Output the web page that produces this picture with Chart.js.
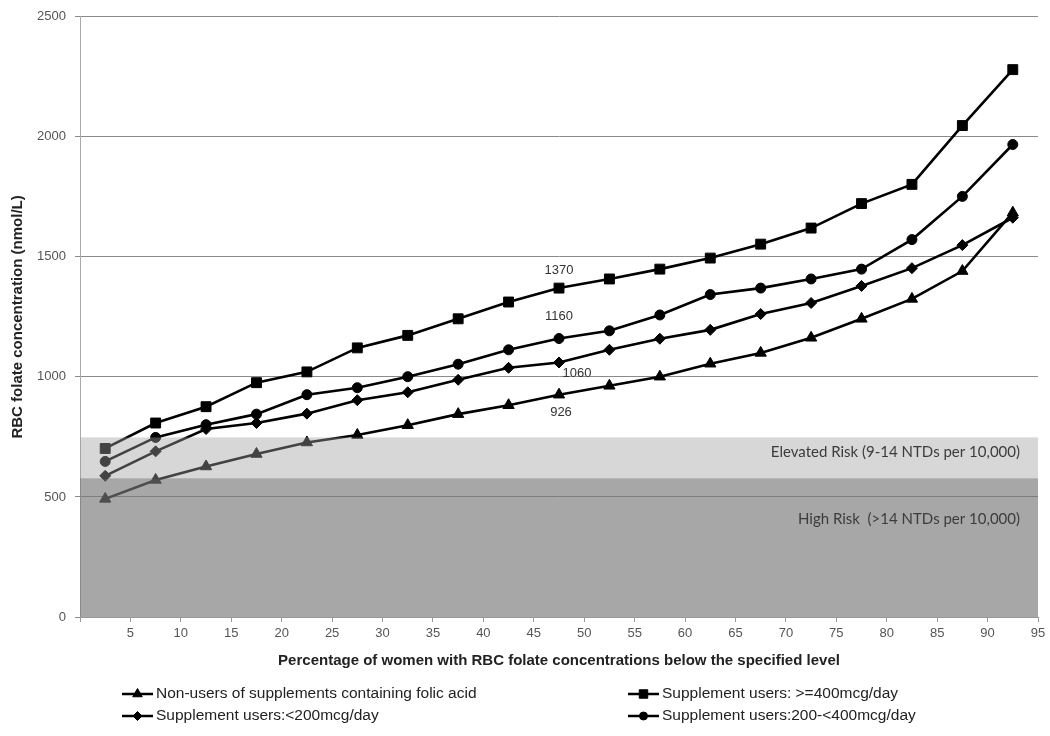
<!DOCTYPE html>
<html>
<head>
<meta charset="utf-8">
<script src="https://cdn.jsdelivr.net/npm/chart.js@4.4.0/dist/chart.umd.min.js"></script>
<style>
html, body { margin: 0; padding: 0; background: #fff; }
</style>
</head>
<body>
<canvas id="folateChart" width="1050" height="736"></canvas>
<script>
// percentile midpoints on the x axis
let percentiles = [2.5, 7.5, 12.5, 17.5, 22.5, 27.5, 32.5, 37.5, 42.5, 47.5, 52.5, 57.5, 62.5, 67.5, 72.5, 77.5, 82.5, 87.5, 92.5];

let seriesNames = [
    'Non-users of supplements containing folic acid',
    'Supplement users:<200mcg/day',
    'Supplement users:200-<400mcg/day',
    'Supplement users: >=400mcg/day'
];
let nonUsers = [492, 571, 627, 679, 727, 758, 799, 845, 882, 926, 963, 1001, 1055, 1100, 1163, 1242, 1325, 1441, 1684];
let under200 = [588, 690, 783, 808, 847, 903, 936, 988, 1038, 1060, 1113, 1159, 1196, 1262, 1308, 1379, 1453, 1549, 1663];
let from200to400 = [648, 748, 801, 845, 926, 955, 1001, 1053, 1113, 1160, 1192, 1258, 1343, 1370, 1408, 1449, 1572, 1752, 1968];
let over400 = [702, 808, 876, 976, 1021, 1121, 1173, 1242, 1312, 1370, 1408, 1449, 1495, 1553, 1620, 1722, 1802, 2047, 2280];

let xTicks = [0, 5, 10, 15, 20, 25, 30, 35, 40, 45, 50, 55, 60, 65, 70, 75, 80, 85, 90, 95];
let yTicks = [0, 500, 1000, 1500, 2000, 2500];

// risk zones (nmol/L)
let bandNames = ['Elevated Risk (9-14 NTDs per 10,000)', 'High Risk  (>14 NTDs per 10,000)'];
let bandLow = [578, 0];
let bandHigh = [748, 578];

// the point at the median that gets its value written next to it
let labeledIndex = 9;

// styles
let markerStyles = ['triangle', 'rectRot', 'circle', 'rect'];
let markerSizes = [6.5, 5.5, 5, 7];
let labelOffsets = [[2, 18], [18, 11], [0, -22], [0, -18]];
let legendSlots = [[122, 694], [122, 716], [628, 716], [628, 694]];
let bandFills = ['rgba(160,160,160,0.42)', 'rgba(120,120,120,0.65)'];

let allValues = [nonUsers, under200, from200to400, over400];

Chart.defaults.font.family = "'Liberation Sans', Arial, sans-serif";
Chart.defaults.color = '#555';

let datasets = allValues.map(function (vals, i) {
    return {
        label: seriesNames[i],
        data: percentiles.map(function (p, j) { return { x: p, y: vals[j] }; }),
        borderColor: '#000',
        backgroundColor: '#000',
        borderWidth: 2.6,
        pointStyle: markerStyles[i],
        pointRadius: markerSizes[i],
        pointBorderWidth: 1,
        tension: 0
    };
});

let overlay = {
    id: 'overlay',
    afterDatasetsDraw(chart) {
        let ctx = chart.ctx;
        let a = chart.chartArea;
        let y = chart.scales.y;
        ctx.save();
        // shaded risk zones sit on top of the lines
        bandLow.forEach(function (low, i) {
            let top = y.getPixelForValue(bandHigh[i]);
            let bottom = y.getPixelForValue(low);
            ctx.fillStyle = bandFills[i];
            ctx.fillRect(a.left, top, a.right - a.left, bottom - top);
        });
        ctx.fillStyle = '#3c3c3c';
        ctx.font = "15px Lato, 'Open Sans', sans-serif";
        ctx.textAlign = 'right';
        ctx.textBaseline = 'middle';
        ctx.fillText(bandNames[0], a.right - 18, y.getPixelForValue(bandHigh[0]) + 15);
        ctx.fillText(bandNames[1], a.right - 18, y.getPixelForValue(bandHigh[1]) + 41);

        // values at the median point
        ctx.fillStyle = '#333';
        ctx.font = "13px 'Liberation Sans', Arial, sans-serif";
        ctx.textAlign = 'center';
        chart.data.datasets.forEach(function (ds, i) {
            let pt = chart.getDatasetMeta(i).data[labeledIndex];
            ctx.fillText(String(ds.data[labeledIndex].y), pt.x + labelOffsets[i][0], pt.y + labelOffsets[i][1]);
        });
        ctx.restore();
    },
    afterDraw(chart) {
        let ctx = chart.ctx;
        let a = chart.chartArea;
        ctx.save();
        ctx.fillStyle = '#222';
        ctx.font = "bold 15px 'Liberation Sans', Arial, sans-serif";
        ctx.textAlign = 'center';
        ctx.textBaseline = 'middle';
        ctx.fillText('Percentage of women with RBC folate concentrations below the specified level', (a.left + a.right) / 2, 661);
        ctx.translate(18, (a.top + a.bottom) / 2);
        ctx.rotate(-Math.PI / 2);
        ctx.fillText('RBC folate concentration (nmol/L)', 0, 0);
        ctx.restore();

        // legend in two columns
        ctx.save();
        chart.data.datasets.forEach(function (ds, i) {
            let lx = legendSlots[i][0];
            let ly = legendSlots[i][1];
            ctx.strokeStyle = '#000';
            ctx.lineWidth = 2.5;
            ctx.beginPath();
            ctx.moveTo(lx, ly);
            ctx.lineTo(lx + 31, ly);
            ctx.stroke();
            ctx.fillStyle = '#000';
            ctx.lineWidth = 1;
            Chart.helpers.drawPoint(ctx, { pointStyle: ds.pointStyle, radius: ds.pointRadius - 1, rotation: 0, borderWidth: 1 }, lx + 15.5, ly);
            ctx.fillStyle = '#222';
            ctx.font = "15.5px 'Liberation Sans', Arial, sans-serif";
            ctx.textAlign = 'left';
            ctx.textBaseline = 'middle';
            ctx.fillText(ds.label, lx + 34, ly);
        });
        ctx.restore();
    }
};

new Chart(document.getElementById('folateChart'), {
    type: 'line',
    data: { datasets: datasets },
    plugins: [overlay],
    options: {
        responsive: false,
        animation: false,
        devicePixelRatio: 1,
        layout: { padding: { top: 15, right: 12, left: 0, bottom: 0 } },
        plugins: {
            legend: { display: false },
            tooltip: { enabled: false }
        },
        scales: {
            x: {
                type: 'linear',
                min: 0,
                max: 95,
                afterBuildTicks: function (s) { s.ticks = xTicks.map(function (v) { return { value: v }; }); },
                afterFit: function (s) { s.height = 119; },
                ticks: {
                    autoSkip: false,
                    maxRotation: 0,
                    padding: 4,
                    color: '#555',
                    font: { size: 13 },
                    callback: function (v) { return v === 0 ? '' : String(v); }
                },
                grid: { drawOnChartArea: false, color: '#999', tickLength: 5 },
                border: { color: '#999', width: 1 }
            },
            y: {
                min: 0,
                max: 2500,
                afterBuildTicks: function (s) { s.ticks = yTicks.map(function (v) { return { value: v }; }); },
                afterFit: function (s) { s.width = 80; },
                ticks: {
                    padding: 9,
                    color: '#555',
                    font: { size: 13 },
                    callback: function (v) { return String(v); }
                },
                grid: { color: '#8a8a8a', tickLength: 5 },
                border: { color: '#aaa', width: 1 }
            }
        }
    }
});
</script>
</body>
</html>
